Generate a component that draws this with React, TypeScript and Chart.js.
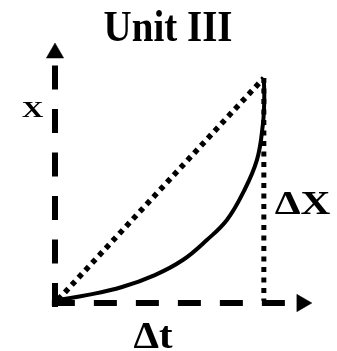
import React, { useEffect, useRef } from "react";
import { Chart, registerables } from "chart.js";

Chart.register(...registerables);

// Curve (Δt, X) in chart units; end point (10, 10)
const curveT = [0.14, 1.58, 3.21, 4.78, 6.12, 7.27, 8.23, 9.0, 9.67, 9.95, 10.02, 10.0];
const curveX = [0.13, 0.36, 0.71, 1.24, 1.91, 2.8, 3.69, 4.89, 6.36, 7.91, 9.02, 10.0];

// Straight dotted chord and dotted ΔX drop
const chordT = [0.15, 10.0];
const chordX = [0.15, 10.0];
const dropT = [10.0, 10.0];
const dropX = [10.0, 0.1];

// Axes (dashed) and arrow heads
const tAxisT = [-0.15, 11.48];
const tAxisX = [0, 0];
const xAxisT = [0, 0];
const xAxisX = [-0.18, 10.8];
const arrowUp = { t: 0, x: 11.11 };
const arrowRight = { t: 11.82, x: 0 };

const titleText = "Unit III";
const yLabel = "X";
const deltaXLabel = "ΔX";
const deltaTLabel = "Δt";

const pts = (ts: number[], xs: number[]) => ts.map((t, i) => ({ x: t, y: xs[i] }));

const FONT = '"Liberation Serif", "Times New Roman", serif';

const labelsPlugin = {
  id: "labels",
  afterDraw(chart: any) {
    const ctx = chart.ctx as CanvasRenderingContext2D;
    const draw = (text: string, cx: number, base: number, size: number, sx: number, sy: number) => {
      ctx.save();
      ctx.translate(cx, base);
      ctx.scale(sx, sy);
      ctx.font = `bold ${size}px ${FONT}`;
      ctx.fillStyle = "#000";
      ctx.textAlign = "center";
      ctx.textBaseline = "alphabetic";
      ctx.fillText(text, 0, 0);
      ctx.restore();
    };
    draw(titleText, 168, 41, 39, 1.0, 1.12);
    draw(yLabel, 32.5, 116.5, 24, 1.25, 1);
    draw(deltaXLabel, 302.5, 213.5, 33, 1.25, 1);
    draw(deltaTLabel, 153, 347.5, 37, 1.1, 1);
  },
};

export default function App() {
  const ref = useRef<HTMLCanvasElement | null>(null);
  useEffect(() => {
    if (!ref.current) return;
    const black = "#000";
    const chart = new Chart(ref.current, {
      type: "line",
      data: {
        datasets: [
          {
            data: pts(curveT, curveX),
            borderColor: black,
            borderWidth: 4,
            pointRadius: 0,
            tension: 0.4,
            fill: false,
            clip: false as any,
          },
          {
            data: pts(chordT, chordX),
            borderColor: black,
            borderWidth: 5.5,
            borderDash: [5, 5],
            pointRadius: 0,
            fill: false,
            clip: false as any,
          },
          {
            data: pts(dropT, dropX),
            borderColor: black,
            borderWidth: 5,
            borderDash: [5, 5.5],
            pointRadius: 0,
            fill: false,
            clip: false as any,
          },
          {
            data: pts(tAxisT, tAxisX),
            borderColor: black,
            borderWidth: 6,
            borderDash: [23, 19],
            borderCapStyle: "butt",
            pointRadius: 0,
            fill: false,
            clip: false as any,
          },
          {
            data: pts(xAxisT, xAxisX),
            borderColor: black,
            borderWidth: 6,
            borderDash: [24, 19.5],
            borderCapStyle: "butt",
            pointRadius: 0,
            fill: false,
            clip: false as any,
          },
          {
            data: [{ x: arrowUp.t, y: arrowUp.x }],
            showLine: false,
            pointStyle: "triangle",
            pointRadius: 10,
            pointRotation: 0,
            pointBackgroundColor: black,
            pointBorderColor: black,
            pointBorderWidth: 0.5,
            clip: false as any,
          },
          {
            data: [{ x: arrowRight.t, y: arrowRight.x }],
            showLine: false,
            pointStyle: "triangle",
            pointRadius: 10,
            pointRotation: 90,
            pointBackgroundColor: black,
            pointBorderColor: black,
            pointBorderWidth: 0.5,
            clip: false as any,
          },
        ] as any,
      },
      options: {
        animation: false,
        responsive: false,
        devicePixelRatio: 1,
        events: [],
        layout: { padding: { left: 55, right: 10.3, top: 55.5, bottom: 48 } },
        plugins: {
          legend: { display: false },
          tooltip: { enabled: false },
          title: { display: false },
        },
        scales: {
          x: { type: "linear", min: 0, max: 13, display: false },
          y: { type: "linear", min: 0, max: 11, display: false },
        },
      },
      plugins: [labelsPlugin],
    });
    return () => chart.destroy();
  }, []);
  return (
    <div style={{ position: "fixed", left: 0, top: 0, width: 337, height: 351, background: "#fff" }}>
      <canvas ref={ref} width={337} height={351} style={{ display: "block" }} />
    </div>
  );
}
